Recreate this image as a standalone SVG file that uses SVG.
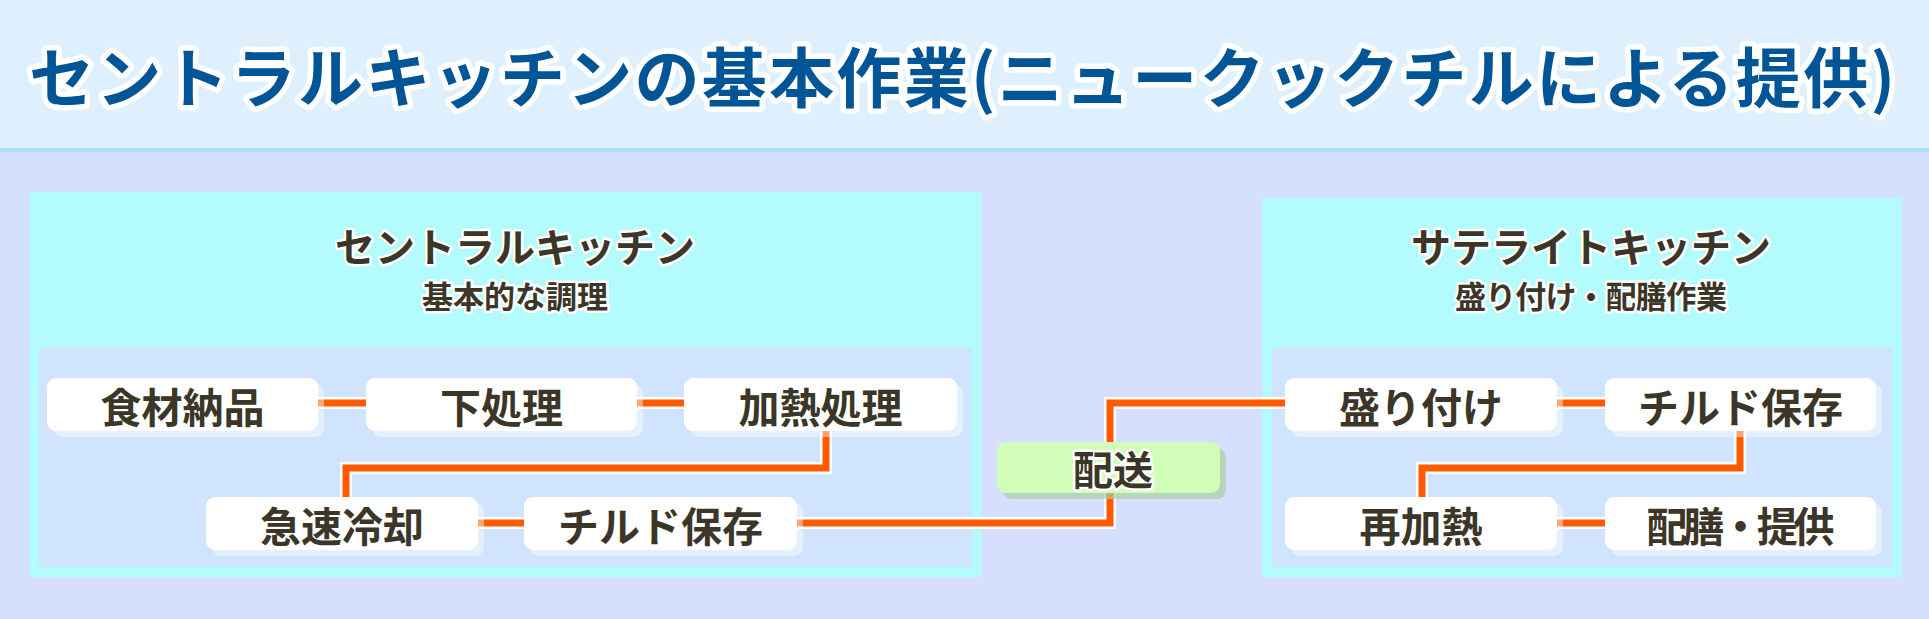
<svg xmlns="http://www.w3.org/2000/svg" width="1929" height="619" viewBox="0 0 1929 619">
<defs>
<style>
text{font-family:"Noto Sans CJK JP","Noto Sans",sans-serif;font-weight:700;dominant-baseline:central;text-anchor:middle;}
.title{fill:#005596;stroke:#ffffff;stroke-width:11;stroke-linejoin:round;paint-order:stroke;font-size:65px;text-anchor:start;}
.ptitle{fill:#3b3628;stroke:#ffffff;stroke-width:5;stroke-linejoin:round;paint-order:stroke;font-size:40px;}
.psub{fill:#3b3628;stroke:#ffffff;stroke-width:5;stroke-linejoin:round;paint-order:stroke;font-size:31px;}
.outer{fill:#b3fbfd;}
.inner{fill:#d0e4fd;}
.shadow{fill:#ffffff;fill-opacity:0.45;}
.box{fill:#ffffff;}
.label{fill:#3b3628;font-size:41px;}
.halo{fill:none;stroke:#ffffff;stroke-width:12;stroke-linejoin:miter;}
.line{fill:none;stroke:#ff5a00;stroke-width:7;stroke-linejoin:miter;}
.gshadow{fill:#a9d09f;fill-opacity:0.7;}
.gbox{fill:#d0fdb8;}
.glabel{fill:#3b3628;stroke:#ffffff;stroke-width:5;stroke-linejoin:round;paint-order:stroke;font-size:40px;}
</style>
</defs>
<rect x="0" y="0" width="1929" height="148" fill="#def0fe"/>
<rect x="0" y="148" width="1929" height="4" fill="#acdcf6"/>
<rect x="0" y="152" width="1929" height="467" fill="#d6dffe"/>
<text class="title" x="29" y="74" textLength="1866" lengthAdjust="spacing">セントラルキッチンの基本作業(ニュークックチルによる提供)</text>

<g id="panel-central">
<rect class="outer" x="29" y="192" width="952" height="385"/>
<rect class="inner" x="39" y="348" width="933" height="219"/>
<text class="ptitle" x="515" y="245">セントラルキッチン</text>
<text class="psub" x="515" y="294">基本的な調理</text>
</g>
<g id="panel-satellite">
<rect class="outer" x="1262" y="197" width="640" height="380"/>
<rect class="inner" x="1272" y="348" width="620" height="219"/>
<text class="ptitle" x="1591" y="245">サテライトキッチン</text>
<text class="psub" x="1591" y="294" textLength="272" lengthAdjust="spacing">盛り付け・配膳作業</text>
</g>

<g id="connectors">
<path class="halo" d="M318,403 H366 M637,403 H684 M826,431 V468 H346 V497 M478,523 H524 M797,523 H1110 V403 H1285 M1557,403 H1605 M1740,431 V468 H1422 V497 M1557,523 H1605"/>
<path class="line" d="M318,403 H366 M637,403 H684 M826,431 V468 H346 V497 M478,523 H524 M797,523 H1110 V403 H1285 M1557,403 H1605 M1740,431 V468 H1422 V497 M1557,523 H1605"/>
</g>

<g id="node-shokuzai">
<rect class="shadow" x="53" y="384" width="271" height="53" rx="9"/>
<rect class="box" x="47" y="378" width="271" height="53" rx="9"/>
<text class="label" x="182.5" y="405">食材納品</text>
</g>
<g id="node-shitashori">
<rect class="shadow" x="372" y="384" width="271" height="53" rx="9"/>
<rect class="box" x="366" y="378" width="271" height="53" rx="9"/>
<text class="label" x="501.5" y="405">下処理</text>
</g>
<g id="node-kanetsu">
<rect class="shadow" x="690" y="384" width="273" height="53" rx="9"/>
<rect class="box" x="684" y="378" width="273" height="53" rx="9"/>
<text class="label" x="820.5" y="405">加熱処理</text>
</g>
<g id="node-kyusoku">
<rect class="shadow" x="212" y="503" width="272" height="53" rx="9"/>
<rect class="box" x="206" y="497" width="272" height="53" rx="9"/>
<text class="label" x="342" y="524">急速冷却</text>
</g>
<g id="node-chilled-c">
<rect class="shadow" x="530" y="503" width="273" height="53" rx="9"/>
<rect class="box" x="524" y="497" width="273" height="53" rx="9"/>
<text class="label" x="660.5" y="524">チルド保存</text>
</g>
<g id="node-haiso">
<rect class="gshadow" x="1003" y="448" width="223" height="51" rx="9"/>
<rect class="gbox" x="997" y="442" width="223" height="51" rx="9"/>
<text class="glabel" x="1113" y="468">配送</text>
</g>
<g id="node-moritsuke">
<rect class="shadow" x="1291" y="384" width="272" height="53" rx="9"/>
<rect class="box" x="1285" y="378" width="272" height="53" rx="9"/>
<text class="label" x="1421" y="405">盛り付け</text>
</g>
<g id="node-chilled-s">
<rect class="shadow" x="1611" y="384" width="271" height="53" rx="9"/>
<rect class="box" x="1605" y="378" width="271" height="53" rx="9"/>
<text class="label" x="1740.5" y="405">チルド保存</text>
</g>
<g id="node-saikanetsu">
<rect class="shadow" x="1291" y="503" width="272" height="53" rx="9"/>
<rect class="box" x="1285" y="497" width="272" height="53" rx="9"/>
<text class="label" x="1421" y="524">再加熱</text>
</g>
<g id="node-haizen">
<rect class="shadow" x="1611" y="503" width="271" height="53" rx="9"/>
<rect class="box" x="1605" y="497" width="271" height="53" rx="9"/>
<text class="label" x="1740.5" y="524" textLength="188" lengthAdjust="spacing">配膳・提供</text>
</g>
</svg>
